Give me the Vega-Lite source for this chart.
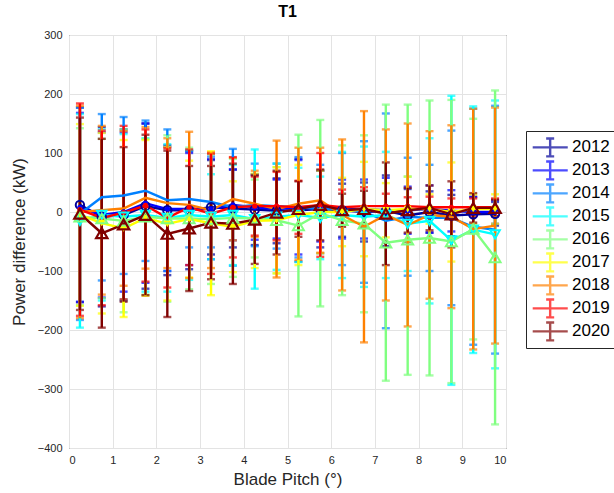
{
"$schema":"https://vega.github.io/schema/vega-lite/v6.json",
"width":437,"height":413,
"autosize":"none",
"padding":{"left":69,"top":35,"right":108,"bottom":45},
"background":"white",
"title":{"text":"T1","fontSize":16,"fontWeight":"bold","font":"Liberation Sans","color":"#000000","offset":9},
"config":{"view":{"stroke":"#262626","strokeWidth":1},
"axis":{"labelFont":"Liberation Sans","labelFontSize":11,"labelColor":"#262626","titleFont":"Liberation Sans","titleFontSize":17,"titleColor":"#262626","titleFontWeight":"normal","gridColor":"#e3e3e3","gridWidth":1,"domain":false,"ticks":false},
"legend":{"labelFont":"Liberation Sans","labelFontSize":17,"labelColor":"#000000"}},
"data":{"values":[
{"x":0.25,"year":"2012","y":12,"e":165},{"x":0.75,"year":"2012","y":-8,"e":152},{"x":1.25,"year":"2012","y":-5,"e":145},{"x":1.75,"year":"2012","y":10,"e":140},{"x":2.25,"year":"2012","y":3,"e":110},{"x":2.75,"year":"2012","y":3,"e":100},{"x":3.25,"year":"2012","y":8,"e":80},{"x":3.75,"year":"2012","y":6,"e":66},{"x":4.25,"year":"2012","y":4,"e":60},{"x":4.75,"year":"2012","y":2,"e":55},{"x":5.25,"year":"2012","y":3,"e":87},{"x":5.75,"year":"2012","y":5,"e":65},{"x":6.25,"year":"2012","y":3,"e":45},{"x":6.75,"year":"2012","y":0,"e":50},{"x":7.25,"year":"2012","y":2,"e":60},{"x":7.75,"year":"2012","y":-6,"e":45},{"x":8.25,"year":"2012","y":0,"e":35},{"x":8.75,"year":"2012","y":-6,"e":35},{"x":9.25,"year":"2012","y":-4,"e":30},{"x":9.75,"year":"2012","y":-3,"e":20},
{"x":0.25,"year":"2013","y":8,"e":160},{"x":0.75,"year":"2013","y":-5,"e":140},{"x":1.25,"year":"2013","y":0,"e":135},{"x":1.75,"year":"2013","y":15,"e":135},{"x":2.25,"year":"2013","y":5,"e":105},{"x":2.75,"year":"2013","y":5,"e":95},{"x":3.25,"year":"2013","y":5,"e":85},{"x":3.75,"year":"2013","y":12,"e":60},{"x":4.25,"year":"2013","y":8,"e":55},{"x":4.75,"year":"2013","y":5,"e":50},{"x":5.25,"year":"2013","y":8,"e":80},{"x":5.75,"year":"2013","y":10,"e":60},{"x":6.25,"year":"2013","y":5,"e":50},{"x":6.75,"year":"2013","y":5,"e":50},{"x":7.25,"year":"2013","y":3,"e":55},{"x":7.75,"year":"2013","y":3,"e":40},{"x":8.25,"year":"2013","y":5,"e":40},{"x":8.75,"year":"2013","y":2,"e":35},{"x":9.25,"year":"2013","y":0,"e":25},{"x":9.75,"year":"2013","y":0,"e":20},
{"x":0.25,"year":"2014","y":-3,"e":180},{"x":0.75,"year":"2014","y":25,"e":141},{"x":1.25,"year":"2014","y":28,"e":133},{"x":1.75,"year":"2014","y":36,"e":119},{"x":2.25,"year":"2014","y":20,"e":120},{"x":2.75,"year":"2014","y":22,"e":82},{"x":3.25,"year":"2014","y":17,"e":77},{"x":3.75,"year":"2014","y":8,"e":99},{"x":4.25,"year":"2014","y":12,"e":70},{"x":4.75,"year":"2014","y":10,"e":72},{"x":5.25,"year":"2014","y":8,"e":85},{"x":5.75,"year":"2014","y":5,"e":75},{"x":6.25,"year":"2014","y":5,"e":95},{"x":6.75,"year":"2014","y":0,"e":120},{"x":7.25,"year":"2014","y":-15,"e":182},{"x":7.75,"year":"2014","y":-8,"e":100},{"x":8.25,"year":"2014","y":-10,"e":90},{"x":8.75,"year":"2014","y":-10,"e":148},{"x":9.25,"year":"2014","y":-25,"e":200},{"x":9.75,"year":"2014","y":-30,"e":210},
{"x":0.25,"year":"2015","y":-15,"e":181},{"x":0.75,"year":"2015","y":-5,"e":145},{"x":1.25,"year":"2015","y":-8,"e":140},{"x":1.75,"year":"2015","y":-5,"e":130},{"x":2.25,"year":"2015","y":-10,"e":125},{"x":2.75,"year":"2015","y":-5,"e":110},{"x":3.25,"year":"2015","y":-8,"e":72},{"x":3.75,"year":"2015","y":-5,"e":85},{"x":4.25,"year":"2015","y":-12,"e":118},{"x":4.75,"year":"2015","y":-8,"e":90},{"x":5.25,"year":"2015","y":-5,"e":80},{"x":5.75,"year":"2015","y":-10,"e":70},{"x":6.25,"year":"2015","y":-5,"e":107},{"x":6.75,"year":"2015","y":-8,"e":119},{"x":7.25,"year":"2015","y":-5,"e":107},{"x":7.75,"year":"2015","y":-20,"e":80},{"x":8.25,"year":"2015","y":-15,"e":140},{"x":8.75,"year":"2015","y":-48,"e":245},{"x":9.25,"year":"2015","y":-30,"e":209},{"x":9.75,"year":"2015","y":-38,"e":227},
{"x":0.25,"year":"2016","y":-8,"e":150},{"x":0.75,"year":"2016","y":-11,"e":135},{"x":1.25,"year":"2016","y":-15,"e":155},{"x":1.75,"year":"2016","y":-8,"e":132},{"x":2.25,"year":"2016","y":-11,"e":141},{"x":2.75,"year":"2016","y":-11,"e":120},{"x":3.25,"year":"2016","y":-12,"e":110},{"x":3.75,"year":"2016","y":-10,"e":100},{"x":4.25,"year":"2016","y":-11,"e":66},{"x":4.75,"year":"2016","y":-14,"e":90},{"x":5.25,"year":"2016","y":-23,"e":154},{"x":5.75,"year":"2016","y":-2,"e":158},{"x":6.25,"year":"2016","y":-14,"e":127},{"x":6.75,"year":"2016","y":-20,"e":150},{"x":7.25,"year":"2016","y":-52,"e":234},{"x":7.75,"year":"2016","y":-47,"e":229},{"x":8.25,"year":"2016","y":-44,"e":233},{"x":8.75,"year":"2016","y":-50,"e":240},{"x":9.25,"year":"2016","y":-29,"e":187},{"x":9.75,"year":"2016","y":-77,"e":283},
{"x":0.25,"year":"2017","y":-5,"e":154},{"x":0.75,"year":"2017","y":-19,"e":153},{"x":1.25,"year":"2017","y":-28,"e":150},{"x":1.75,"year":"2017","y":-10,"e":132},{"x":2.25,"year":"2017","y":-20,"e":130},{"x":2.75,"year":"2017","y":-12,"e":99},{"x":3.25,"year":"2017","y":-19,"e":122},{"x":3.75,"year":"2017","y":-25,"e":77},{"x":4.25,"year":"2017","y":-15,"e":80},{"x":4.75,"year":"2017","y":-14,"e":90},{"x":5.25,"year":"2017","y":-5,"e":85},{"x":5.75,"year":"2017","y":0,"e":70},{"x":6.25,"year":"2017","y":0,"e":58},{"x":6.75,"year":"2017","y":5,"e":80},{"x":7.25,"year":"2017","y":3,"e":46},{"x":7.75,"year":"2017","y":5,"e":55},{"x":8.25,"year":"2017","y":5,"e":25},{"x":8.75,"year":"2017","y":0,"e":84},{"x":9.25,"year":"2017","y":5,"e":25},{"x":9.75,"year":"2017","y":5,"e":25},
{"x":0.25,"year":"2018","y":0,"e":180},{"x":0.75,"year":"2018","y":3,"e":143},{"x":1.25,"year":"2018","y":6,"e":131},{"x":1.75,"year":"2018","y":24,"e":120},{"x":2.25,"year":"2018","y":15,"e":110},{"x":2.75,"year":"2018","y":12,"e":124},{"x":3.25,"year":"2018","y":3,"e":98},{"x":3.75,"year":"2018","y":22,"e":70},{"x":4.25,"year":"2018","y":14,"e":56},{"x":4.75,"year":"2018","y":5,"e":116},{"x":5.25,"year":"2018","y":14,"e":95},{"x":5.75,"year":"2018","y":20,"e":89},{"x":6.25,"year":"2018","y":-5,"e":128},{"x":6.75,"year":"2018","y":-25,"e":196},{"x":7.25,"year":"2018","y":-5,"e":145},{"x":7.75,"year":"2018","y":-22,"e":172},{"x":8.25,"year":"2018","y":-5,"e":142},{"x":8.75,"year":"2018","y":-8,"e":155},{"x":9.25,"year":"2018","y":-29,"e":204},{"x":9.75,"year":"2018","y":-23,"e":200},
{"x":0.25,"year":"2019","y":4,"e":180},{"x":0.75,"year":"2019","y":-10,"e":148},{"x":1.25,"year":"2019","y":-1,"e":147},{"x":1.75,"year":"2019","y":11,"e":129},{"x":2.25,"year":"2019","y":-10,"e":118},{"x":2.75,"year":"2019","y":8,"e":98},{"x":3.25,"year":"2019","y":-3,"e":102},{"x":3.75,"year":"2019","y":8,"e":85},{"x":4.25,"year":"2019","y":10,"e":50},{"x":4.75,"year":"2019","y":10,"e":58},{"x":5.25,"year":"2019","y":8,"e":45},{"x":5.75,"year":"2019","y":12,"e":88},{"x":6.25,"year":"2019","y":8,"e":30},{"x":6.75,"year":"2019","y":10,"e":32},{"x":7.25,"year":"2019","y":10,"e":21},{"x":7.75,"year":"2019","y":10,"e":15},{"x":8.25,"year":"2019","y":8,"e":18},{"x":8.75,"year":"2019","y":8,"e":15},{"x":9.25,"year":"2019","y":8,"e":15},{"x":9.75,"year":"2019","y":8,"e":15},
{"x":0.25,"year":"2020","y":-3,"e":163},{"x":0.75,"year":"2020","y":-36,"e":160},{"x":1.25,"year":"2020","y":-21,"e":131},{"x":1.75,"year":"2020","y":-5,"e":136},{"x":2.25,"year":"2020","y":-37,"e":141},{"x":2.75,"year":"2020","y":-28,"e":106},{"x":3.25,"year":"2020","y":-18,"e":96},{"x":3.75,"year":"2020","y":-20,"e":102},{"x":4.25,"year":"2020","y":-13,"e":75},{"x":4.75,"year":"2020","y":-1,"e":71},{"x":5.25,"year":"2020","y":5,"e":47},{"x":5.75,"year":"2020","y":12,"e":60},{"x":6.25,"year":"2020","y":3,"e":28},{"x":6.75,"year":"2020","y":5,"e":31},{"x":7.25,"year":"2020","y":-3,"e":87},{"x":7.75,"year":"2020","y":3,"e":38},{"x":8.25,"year":"2020","y":7,"e":38},{"x":8.75,"year":"2020","y":-4,"e":56},{"x":9.25,"year":"2020","y":7,"e":25},{"x":9.75,"year":"2020","y":7,"e":14}
]},
"encoding":{
"x":{"field":"x","type":"quantitative","scale":{"domain":[0,10],"nice":false},"axis":{"values":[0,1,2,3,4,5,6,7,8,9,10],"title":"Blade Pitch (°)","labelPadding":6,"titlePadding":6}}
},
"layer":[
{"mark":{"type":"errorbar","thickness":2.4,"ticks":{"size":8,"thickness":2.4}},
"encoding":{
"y":{"field":"y","type":"quantitative","scale":{"domain":[-400,300],"nice":false},"axis":{"values":[-400,-300,-200,-100,0,100,200,300],"title":"Power difference (kW)","labelPadding":7,"titlePadding":9}},
"yError":{"field":"e"},
"color":{"field":"year","type":"nominal","scale":{"domain":["2012","2013","2014","2015","2016","2017","2018","2019","2020"],"range":["#00009a","#0000ff","#0080ff","#00ffff","#80ff80","#ffff00","#ff8000","#ff0000","#800000"]},
"legend":{"title":null,"orient":"none","legendX":457,"legendY":96,"fillColor":"white","strokeColor":"#262626","padding":5,"symbolType":"M-1,0L1.97,0M0.48,-0.76L0.48,0.76M0.14,-0.76L0.82,-0.76M0.14,0.76L0.82,0.76","symbolSize":557,"symbolStrokeWidth":2.4,"symbolFillColor":"transparent","labelOffset":14,"rowPadding":0,"clipHeight":22.8}}
}},
{"mark":{"type":"line","strokeWidth":2.4},
"encoding":{
"y":{"field":"y","type":"quantitative"},
"color":{"field":"year","type":"nominal"}
}},
{"transform":[{"filter":{"field":"year","oneOf":["2012"]}}],
"mark":{"type":"point","shape":"circle","size":70,"filled":false,"strokeWidth":2,"opacity":1},
"encoding":{"y":{"field":"y","type":"quantitative"},"stroke":{"value":"#00009a"}}},
{"transform":[{"filter":{"field":"year","oneOf":["2013","2019"]}}],
"mark":{"type":"point","shape":"circle","size":28,"filled":true,"opacity":1},
"encoding":{"y":{"field":"y","type":"quantitative"},"fill":{"field":"year","type":"nominal","scale":{"domain":["2013","2019"],"range":["#0000ff","#ff0000"]},"legend":null}}},
{"transform":[{"filter":{"field":"year","oneOf":["2015"]}}],
"mark":{"type":"point","shape":"triangle-down","size":90,"filled":false,"strokeWidth":2,"opacity":1},
"encoding":{"y":{"field":"y","type":"quantitative"},"stroke":{"value":"#00ffff"}}},
{"transform":[{"filter":{"field":"year","oneOf":["2017"]}}],
"mark":{"type":"point","shape":"triangle-down","size":60,"filled":true,"opacity":1},
"encoding":{"y":{"field":"y","type":"quantitative"},"fill":{"value":"#ffff00"}}},
{"transform":[{"filter":{"field":"year","oneOf":["2016"]}}],
"mark":{"type":"point","shape":"triangle-up","size":120,"filled":false,"strokeWidth":2,"opacity":1},
"encoding":{"y":{"field":"y","type":"quantitative"},"stroke":{"value":"#80ff80"}}},
{"transform":[{"filter":{"field":"year","oneOf":["2020"]}}],
"mark":{"type":"point","shape":"triangle-up","size":130,"filled":false,"strokeWidth":2.2,"opacity":1},
"encoding":{"y":{"field":"y","type":"quantitative"},"stroke":{"value":"#800000"}}}
]
}
